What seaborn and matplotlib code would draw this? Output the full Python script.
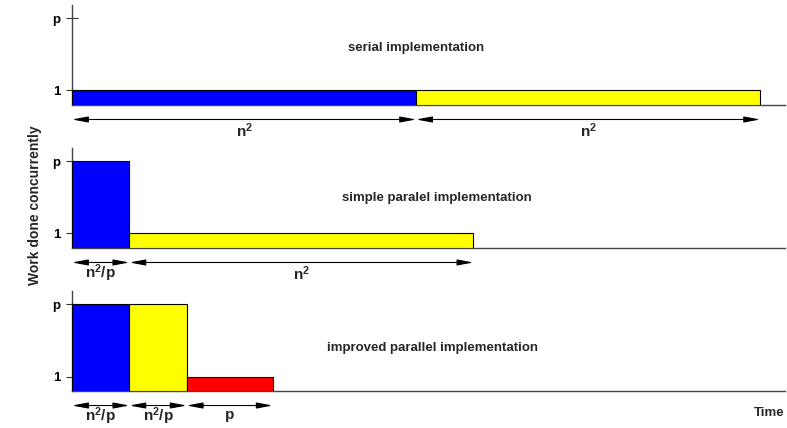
import numpy as np
import seaborn as sns
import matplotlib.pyplot as plt

# Data
# ==============================================================================
P = 6            # height drawn for "p"
X_MAX = 74.6     # time axis length (n^2 = 36 units)

panel_titles = ['serial implementation', 'simple paralel implementation', 'improved parallel implementation']
panel_widths = [[36, 36], [6, 36], [6, 6, 9]]
panel_heights = [[1, 1], [P, 1], [P, P, 1]]
panel_colors = [['#0000ff', '#ffff00'], ['#0000ff', '#ffff00'], ['#0000ff', '#ffff00', '#ff0000']]
panel_labels = [[r'$\mathbf{n^2}$', r'$\mathbf{n^2}$'],
                [r'$\mathbf{n^2/p}$', r'$\mathbf{n^2}$'],
                [r'$\mathbf{n^2/p}$', r'$\mathbf{n^2/p}$', r'$\mathbf{p}$']]
title_pos = [(36, 0.57), (38.2, 0.50), (37.7, 0.43)]
ytick_values = [1, P]
ytick_labels = ['1', 'p']

# Style
# ==============================================================================
sns.set_theme(style='white')
plt.rcParams['font.family'] = ['Liberation Sans', 'DejaVu Sans']
plt.rcParams['mathtext.fontset'] = 'custom'
plt.rcParams['mathtext.rm'] = 'Liberation Sans'
plt.rcParams['mathtext.bf'] = 'Liberation Sans:bold'

fig = plt.figure(figsize=(7.87, 4.28), dpi=100)
bottoms = [0.7547, 0.4206, 0.0864]

for i in range(3):
    ax = fig.add_axes([72 / 787, bottoms[i], 713 / 787, 100 / 428])
    widths = np.array(panel_widths[i])
    starts = np.concatenate([[0], np.cumsum(widths)[:-1]])

    ax.bar(starts, panel_heights[i], width=widths, align='edge',
           color=panel_colors[i], edgecolor='black', linewidth=0.8, zorder=3)

    ax.set_xlim(0, X_MAX)
    ax.set_ylim(0, 6.9)
    ax.set_xticks([])
    ax.set_yticks(ytick_values)
    ax.set_yticklabels(ytick_labels, fontsize=9.5, fontweight='bold')
    ax.tick_params(axis='y', direction='inout', length=9, width=0.8, colors='#333333',
                   labelcolor='black', left=True, pad=4)
    for s in ['top', 'right']:
        ax.spines[s].set_visible(False)
    for s in ['left', 'bottom']:
        ax.spines[s].set_color('#444444')
        ax.spines[s].set_linewidth(1)

    # Panel title
    ax.text(title_pos[i][0], title_pos[i][1], panel_titles[i], transform=ax.get_xaxis_transform(),
            fontsize=9.5, fontweight='bold', ha='center', va='center')

    # Duration arrows + labels
    trans = ax.get_xaxis_transform()
    for x0, w, lab in zip(starts, widths, panel_labels[i]):
        ax.annotate('', xy=(x0 + w, -0.145), xytext=(x0, -0.145), xycoords=trans, textcoords=trans,
                    arrowprops=dict(arrowstyle='<|-|>,head_length=0.8,head_width=0.15',
                                    color='black', lw=0.8, shrinkA=0, shrinkB=0),
                    annotation_clip=False)
        ax.text(x0 + w / 2, -0.255, lab, transform=trans, fontsize=11, ha='center', va='center')

# Axis labels
fig.text(35 / 787, 1 - 205 / 428, 'Work done concurrently', rotation=90, fontsize=10,
         fontweight='bold', ha='center', va='center')
fig.text(784 / 787, 1 - 413 / 428, 'Time', fontsize=9.5, fontweight='bold', ha='right', va='center')

fig.savefig('out.png', dpi=100)
